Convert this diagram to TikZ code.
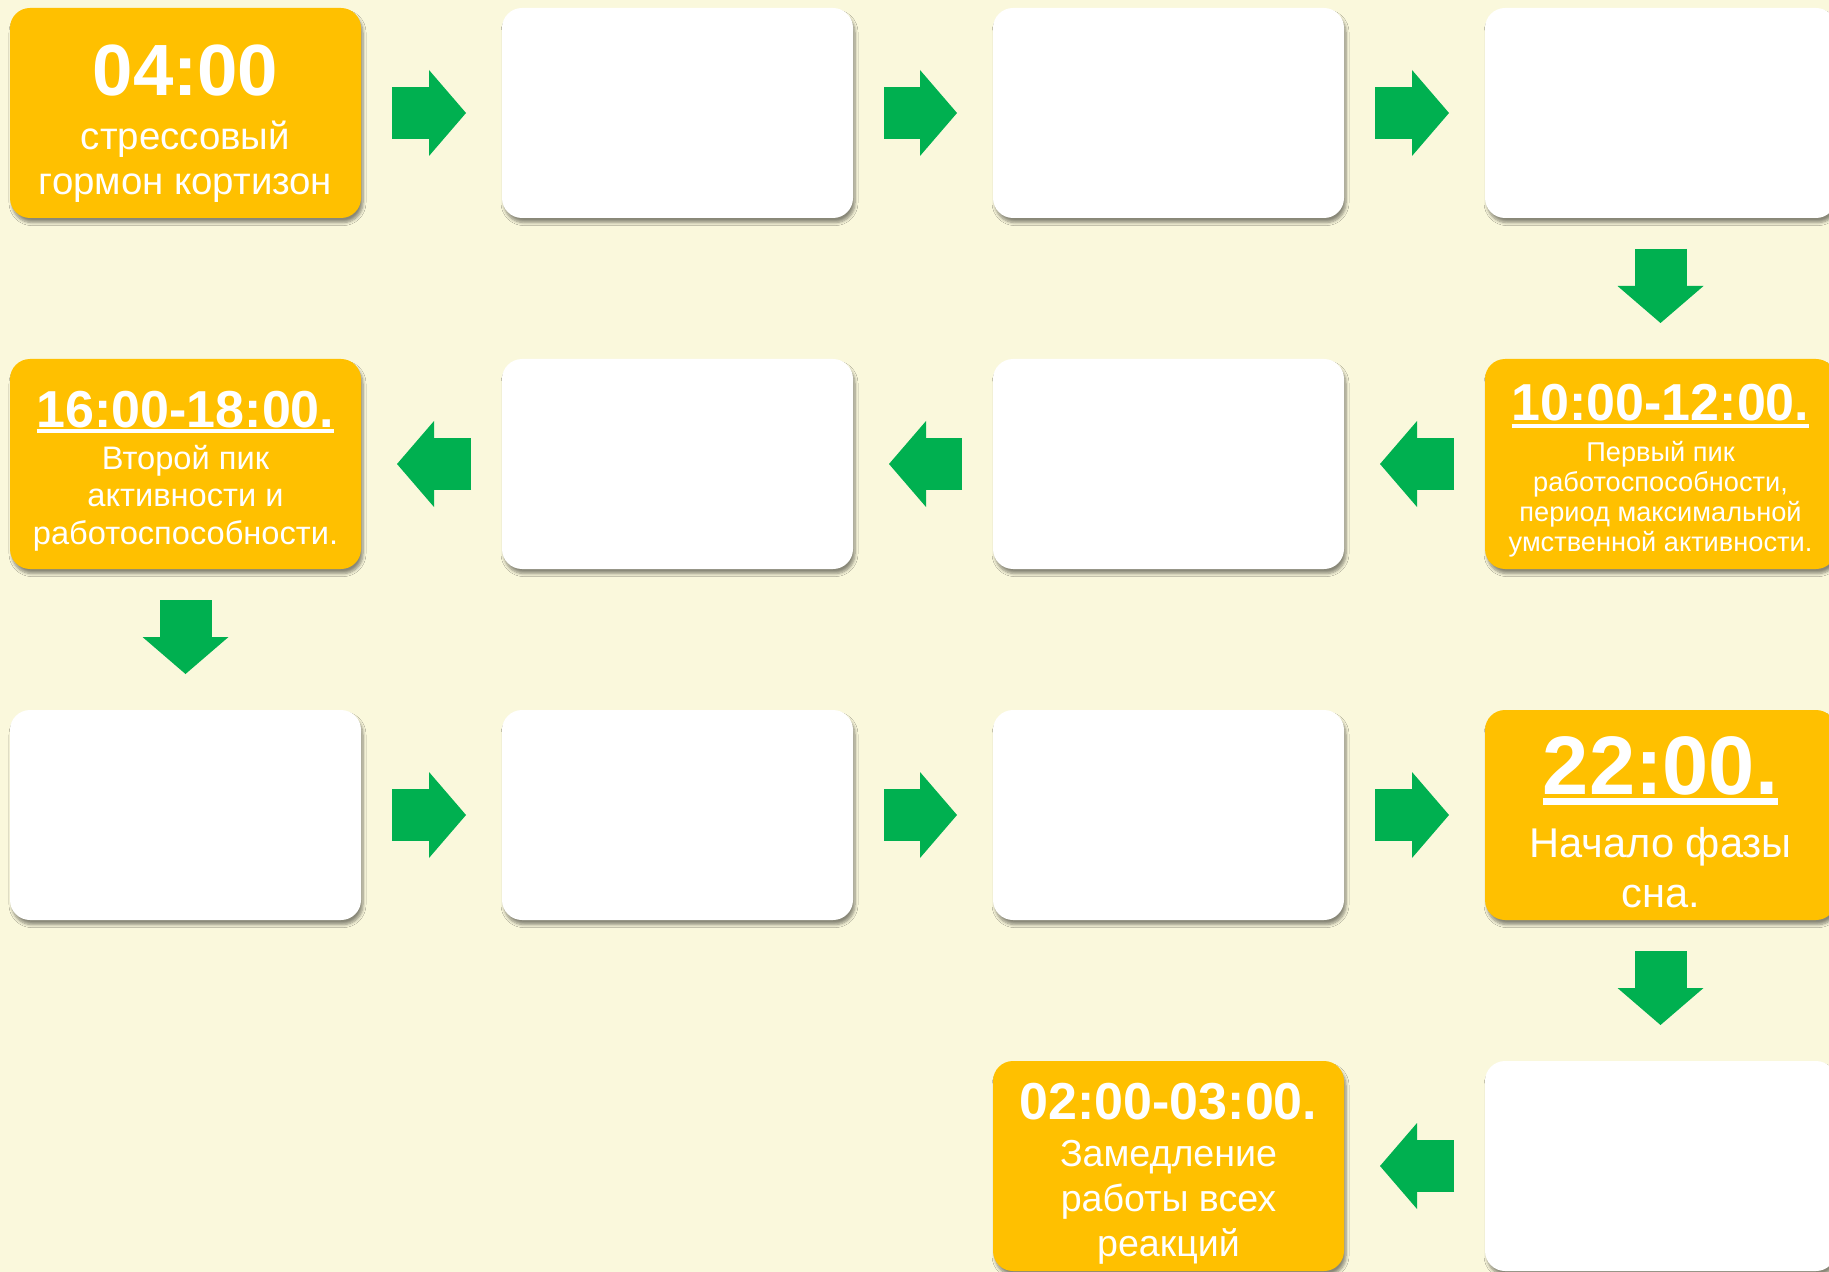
\documentclass[tikz,border=0pt]{standalone}
\usepackage{fontspec}
\setmainfont{Liberation Sans}
\usepackage{xcolor}
\usetikzlibrary{arrows.meta,shadows.blur}

\definecolor{paper}{RGB}{250,248,220}
\definecolor{amber}{RGB}{255,192,0}
\definecolor{leaf}{RGB}{0,176,80}

\newsavebox{\ulbox}
\newcommand{\ulined}[3]{\sbox{\ulbox}{#1}\rlap{\rule[-\dimexpr #2+#3\relax]{\wd\ulbox}{#3}}\usebox{\ulbox}}
\newcommand{\fs}[2]{\fontsize{#1}{#2}\selectfont}

\begin{document}
\begin{tikzpicture}[x=0.5pt, y=-0.5pt,
    card/.style={rectangle, rounded corners=10pt, minimum width=175.5pt, minimum height=105pt,
        inner sep=0pt, outer sep=0pt, text=white, align=center,
        blur shadow={shadow xshift=1pt, shadow yshift=-2.3pt, shadow blur radius=1.5pt,
            shadow blur steps=6, shadow opacity=45}},
    hot/.style={card, fill=amber},
    blank/.style={card, fill=white},
    flow/.style={leaf, line width=26pt, shorten <=15.5pt, shorten >=18pt,
        -{Triangle[width=43pt, length=18.5pt, line width=0pt]}}]

    \useasboundingbox (0,0) rectangle (1829,1272);
    \fill[paper] (0,0) rectangle (1829,1272);

    % row 1
    \node[hot, font=\fs{19.2}{22.5}] (A) at (185.5,113)
        {\rule{0pt}{37.15pt}{\fs{36.3}{36}\bfseries 04:00}\\[4.15pt]
         стрессовый\\ гормон кортизон\rule[-5pt]{0pt}{5pt}};
    \node[blank] (B) at (677.5,113) {};
    \node[blank] (C) at (1168.5,113) {};
    \node[blank] (D) at (1660.5,113) {};

    % row 2
    \node[hot, font=\fs{13.6}{15}] (E) at (1660.5,464)
        {\rule{0pt}{25.35pt}{\fs{26}{26}\bfseries\ulined{10:00-12:00.}{2pt}{2pt}}\\[5.85pt]
         Первый пик\\ работоспособности,\\ период максимальной\\
         умственной активности.\rule[-3.5pt]{0pt}{3.5pt}};
    \node[blank] (F) at (1168.5,464) {};
    \node[blank] (G) at (677.5,464) {};
    \node[hot, font=\fs{16.3}{18.75}] (H) at (185.5,464)
        {\rule{0pt}{25.65pt}{\fs{26}{26}\bfseries\ulined{16:00-18:00.}{1.2pt}{2pt}}\\[2.4pt]
         Второй пик\\ активности и\\ работоспособности.\rule[-4pt]{0pt}{4pt}};

    % row 3
    \node[blank] (I) at (185.5,815) {};
    \node[blank] (J) at (677.5,815) {};
    \node[blank] (K) at (1168.5,815) {};
    \node[hot, font=\fs{20.8}{25}] (L) at (1660.5,815)
        {\rule{0pt}{37.65pt}{\fs{41.5}{41.5}\bfseries\ulined{22:00.}{2pt}{3.5pt}}\\[6.35pt]
         Начало фазы\\ сна.\rule[-2pt]{0pt}{2pt}};

    % row 4
    \node[blank] (M) at (1660.5,1166) {};
    \node[hot, font=\fs{18.8}{22.5}] (N) at (1168.5,1166)
        {\rule{0pt}{26.85pt}{\fs{26}{26}\bfseries 02:00-03:00.}\\[1.35pt]
         Замедление\\ работы всех\\ реакций\rule[-5pt]{0pt}{5pt}};

    \draw[flow] (A.east) -- (B.west);
    \draw[flow] (B.east) -- (C.west);
    \draw[flow] (C.east) -- (D.west);
    \draw[flow] (D.south) -- (E.north);
    \draw[flow] (E.west) -- (F.east);
    \draw[flow] (F.west) -- (G.east);
    \draw[flow] (G.west) -- (H.east);
    \draw[flow] (H.south) -- (I.north);
    \draw[flow] (I.east) -- (J.west);
    \draw[flow] (J.east) -- (K.west);
    \draw[flow] (K.east) -- (L.west);
    \draw[flow] (L.south) -- (M.north);
    \draw[flow] (M.west) -- (N.east);
\end{tikzpicture}
\end{document}
